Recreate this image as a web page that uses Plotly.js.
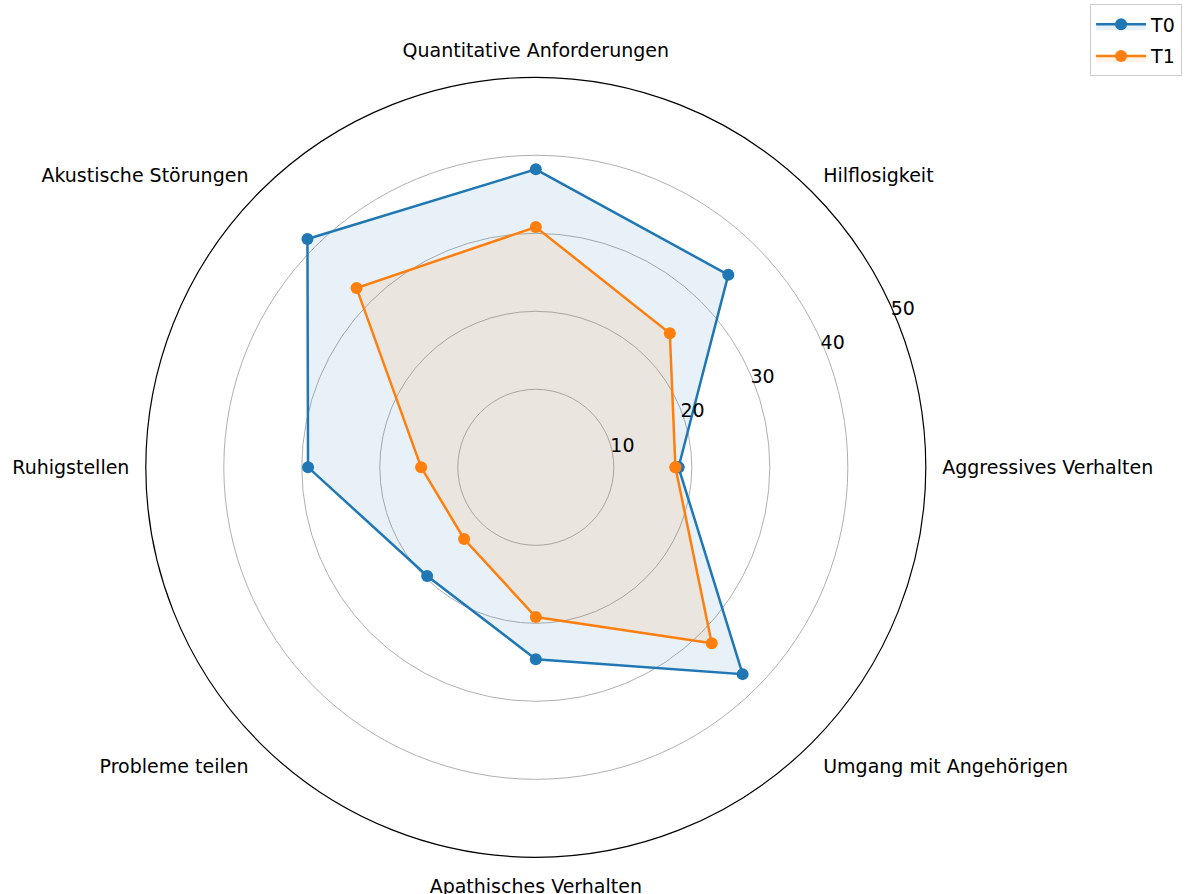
<!DOCTYPE html>
<html>
<head>
<meta charset="utf-8">
<script src="https://cdn.plot.ly/plotly-3.0.1.min.js"></script>
<style>html,body{margin:0;padding:0;background:#fff;}#chart{width:1188px;height:894px;}</style>
</head>
<body>
<div id="chart"></div>
<script>
const categories = ["Aggressives Verhalten", "Hilflosigkeit", "Quantitative Anforderungen", "Akustische Störungen", "Ruhigstellen", "Probleme teilen", "Apathisches Verhalten", "Umgang mit Angehörigen"];
const seriesNames = ["T0", "T1"];
const valuesT0 = [18.3, 34.9, 38.2, 41.4, 29.2, 19.7, 24.6, 37.5];
const valuesT1 = [17.9, 24.3, 30.8, 32.5, 14.7, 13.0, 19.2, 31.9];
const radialTicks = [10, 20, 30, 40, 50];
const colors = ["#1f77b4", "#ff7f0e"];
const fills = ["rgba(31,119,180,0.1)", "rgba(255,127,14,0.1)"];

function closed(arr) { return arr.concat([arr[0]]); }

const traces = [valuesT0, valuesT1].map((vals, i) => ({
  type: "scatterpolar",
  mode: "lines+markers",
  name: seriesNames[i],
  legendgroup: seriesNames[i],
  r: closed(vals),
  theta: closed(categories),
  fill: "toself",
  fillcolor: fills[i],
  line: {color: colors[i], width: 2.5},
  marker: {color: colors[i], size: 12}
}));

const W = 1188, H = 894;
const cx = 535.8, cy = 467.3, R = 390;
const FONT = {family: "DejaVu Sans", size: 19, color: "#000"};
const RADIAL_LABEL_ANGLE = 26;

const layout = {
  width: W, height: H,
  margin: {l: 0, r: 0, t: 0, b: 0},
  paper_bgcolor: "#fff",
  font: FONT,
  showlegend: true,
  legend: {
    x: 0.995, xanchor: "right", y: 0.995, yanchor: "top",
    bordercolor: "#cccccc", borderwidth: 1, bgcolor: "#fff",
    traceorder: "grouped", tracegroupgap: 4,
    itemwidth: 50,
    font: FONT
  },
  polar: {
    domain: {x: [(cx - R) / W, (cx + R) / W], y: [1 - (cy + R) / H, 1 - (cy - R) / H]},
    bgcolor: "#fff",
    angularaxis: {
      type: "category",
      categoryarray: categories,
      rotation: 0,
      direction: "counterclockwise",
      showgrid: false,
      showline: true,
      linecolor: "#000",
      linewidth: 1.2,
      ticks: "outside",
      ticklen: 12,
      tickcolor: "rgba(0,0,0,0)",
      tickfont: FONT
    },
    radialaxis: {
      range: [0, 50],
      tickvals: radialTicks,
      ticktext: radialTicks.map(String),
      angle: RADIAL_LABEL_ANGLE,
      tickangle: RADIAL_LABEL_ANGLE,
      side: "clockwise",
      showline: false,
      ticks: "",
      gridcolor: "#b0b0b0",
      gridwidth: 1,
      tickfont: FONT
    }
  }
};

Plotly.newPlot("chart", traces, layout, {displayModeBar: false});
</script>
</body>
</html>
